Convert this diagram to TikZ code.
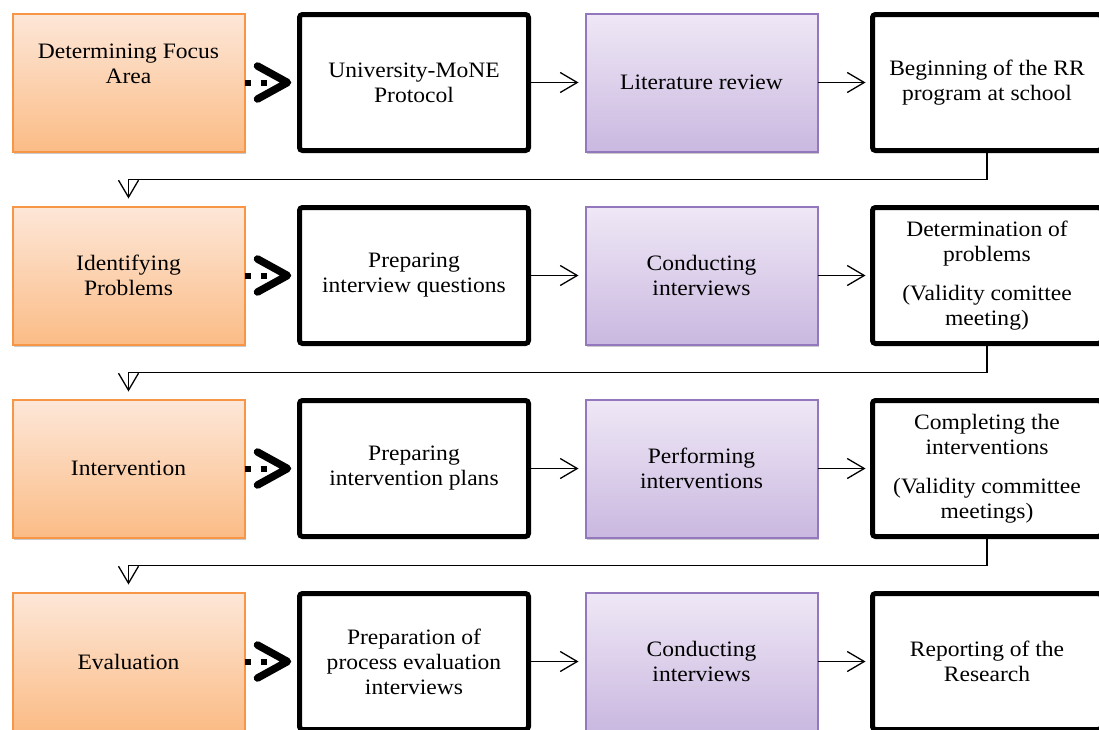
\documentclass[tikz,border=0pt]{standalone}
\usepackage{fontspec}
\setmainfont{Liberation Serif}[FakeStretch=1.07]
\usetikzlibrary{arrows.meta,shadows,calc}
\definecolor{orTop}{HTML}{FDE7D8}
\definecolor{orBot}{HTML}{FBBC86}
\definecolor{orBorder}{HTML}{F79646}
\definecolor{puTop}{HTML}{EFE8F6}
\definecolor{puBot}{HTML}{CAB8E0}
\definecolor{puBorder}{HTML}{9378BE}
\begin{document}
\begin{tikzpicture}[x=1pt,y=-1pt,
  every node/.style={font=\fontsize{22}{25}\selectfont, align=center, inner sep=0pt, outer sep=0pt},
  orangebox/.style={draw=orBorder, line width=2pt, top color=orTop, bottom color=orBot,
    minimum width=232pt, minimum height=138pt,
    drop shadow={opacity=0.35, shadow xshift=1.5pt, shadow yshift=-2.5pt, fill=black!60}},
  purplebox/.style={draw=puBorder, line width=2pt, top color=puTop, bottom color=puBot,
    minimum width=232pt, minimum height=138pt,
    drop shadow={opacity=0.35, shadow xshift=1.5pt, shadow yshift=-2.5pt, fill=black!60}},
  blackbox/.style={draw=black, line width=5pt, fill=white, rounded corners=3pt,
    minimum width=229pt, minimum height=136pt},
  dotline/.style={line width=6pt, dash pattern=on 6pt off 10pt},
  chevron/.style={line width=7.5pt, line cap=round, line join=round},
  thinarrow/.style={line width=1.3pt, -{Straight Barb[length=17pt,width=20pt,line width=1.3pt]}, shorten >=7pt},
  downarrow/.style={line width=1.3pt, -{Straight Barb[length=17pt,width=20pt,line width=1.3pt]}, shorten >=8pt}
]
\useasboundingbox (0,0) rectangle (1099,729);

% Row 1
\node[orangebox] (o1) at (128.5,82.5) {Determining Focus\\Area\\[12pt]\mbox{}};
\node[blackbox] (b1) at (414,82.5) {University-MoNE\\Protocol};
\node[purplebox] (p1) at (701.5,82.5) {Literature review};
\node[blackbox] (c1) at (987,82.5) {Beginning of the RR\\program at school};

% Row 2
\node[orangebox] (o2) at (128.5,275.5) {Identifying\\Problems};
\node[blackbox] (b2) at (414,275.5) {Preparing\\interview questions};
\node[purplebox] (p2) at (701.5,275.5) {Conducting\\interviews};
\node[blackbox] (c2) at (987,275.5) {Determination of\\problems\\[14pt](Validity comittee\\meeting)};

% Row 3
\node[orangebox] (o3) at (128.5,468.5) {Intervention};
\node[blackbox] (b3) at (414,468.5) {Preparing\\intervention plans};
\node[purplebox] (p3) at (701.5,468.5) {Performing\\interventions};
\node[blackbox] (c3) at (987,468.5) {Completing the\\interventions\\[14pt](Validity committee\\meetings)};

% Row 4
\node[orangebox] (o4) at (128.5,661.5) {Evaluation};
\node[blackbox] (b4) at (414,661.5) {Preparation of\\process evaluation\\interviews};
\node[purplebox] (p4) at (701.5,661.5) {Conducting\\interviews};
\node[blackbox] (c4) at (987,661.5) {Reporting of the\\Research};

% Connectors
\foreach \r in {1,2,3,4}{
  \draw[dotline] (o\r.east) -- ($(b\r.west)+(-25,0)$);
  \draw[chevron] ($(b\r.west)+(-42,-16.5)$) -- ($(b\r.west)+(-12,0)$) -- ($(b\r.west)+(-42,16.5)$);
  \draw[thinarrow] (b\r.east) -- (p\r.west);
  \draw[thinarrow] (p\r.east) -- (c\r.west);
}
\draw[downarrow] (c1.south) -- ++(0,29) -| (o2.north);
\draw[downarrow] (c2.south) -- ++(0,29) -| (o3.north);
\draw[downarrow] (c3.south) -- ++(0,29) -| (o4.north);
\end{tikzpicture}
\end{document}
